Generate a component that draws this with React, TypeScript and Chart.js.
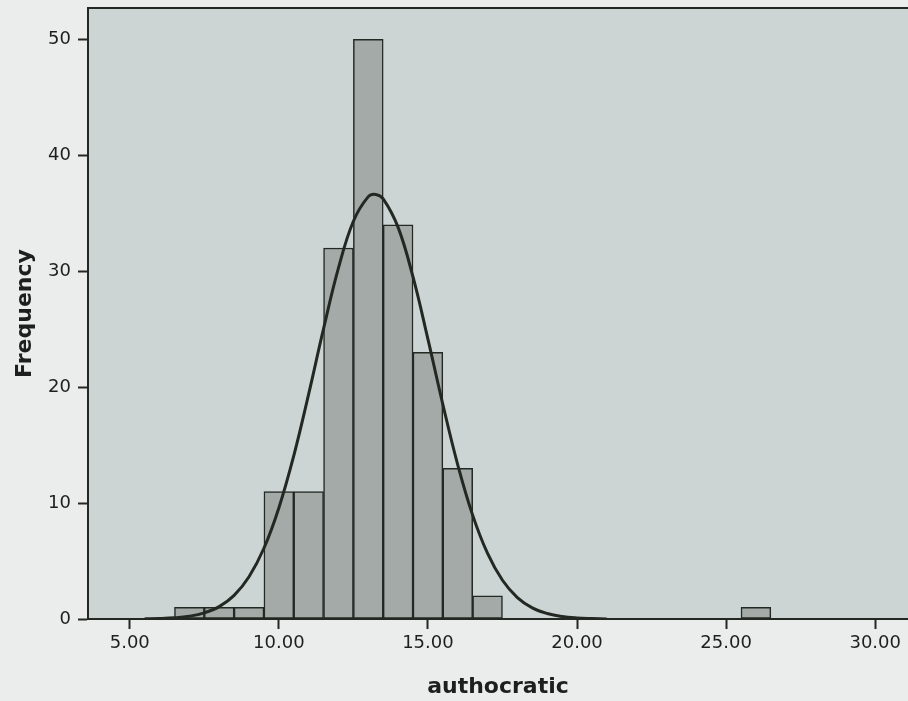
import React, { useEffect, useRef } from 'react';
import { Chart, registerables } from 'chart.js';

Chart.register(...registerables);

const binCenters = [7, 8, 9, 10, 11, 12, 13, 14, 15, 16, 17, 26];
const frequencies = [1, 1, 1, 11, 11, 32, 50, 34, 23, 13, 2, 1];

const curveX = [5.5, 6, 6.5, 7, 7.5, 8, 8.5, 9, 9.5, 10, 10.5, 11, 11.5, 12, 12.5, 13, 13.25, 13.5, 14, 14.5, 15, 15.5, 16, 16.5, 17, 17.5, 18, 18.5, 19, 19.5, 20, 20.5, 21];
const curveY = [0.02, 0.04, 0.1, 0.24, 0.53, 1.07, 2.04, 3.65, 6.1, 9.58, 14.08, 19.4, 25.04, 30.28, 34.31, 36.43, 36.62, 36.24, 33.78, 29.5, 24.14, 18.51, 13.3, 8.96, 5.65, 3.34, 1.85, 0.96, 0.47, 0.21, 0.09, 0.04, 0.01];

const xTicks = [5, 10, 15, 20, 25, 30];
const yTicks = [0, 10, 20, 30, 40, 50];

const xTitle = 'authocratic';
const yTitle = 'Frequency';

const PAGE_BG = '#eaedec';
const PLOT_BG = '#cdd4d4';
const BAR_FILL = '#a3aaa8';
const DARK = '#232823';

const bgPlugin = {
  id: 'bgPlugin',
  beforeDraw(chart: any) {
    const { ctx, chartArea, width, height } = chart;
    ctx.save();
    ctx.fillStyle = PAGE_BG;
    ctx.fillRect(0, 0, width, height);
    ctx.fillStyle = PLOT_BG;
    ctx.fillRect(chartArea.left, chartArea.top, chartArea.right - chartArea.left, chartArea.bottom - chartArea.top);
    ctx.restore();
  },
  afterDraw(chart: any) {
    const { ctx, chartArea } = chart;
    ctx.save();
    ctx.strokeStyle = DARK;
    ctx.lineWidth = 2;
    ctx.beginPath();
    ctx.moveTo(chartArea.left - 1, chartArea.top);
    ctx.lineTo(chartArea.right, chartArea.top);
    ctx.stroke();
    ctx.restore();
  },
};

export default function App() {
  const ref = useRef<HTMLCanvasElement>(null);

  useEffect(() => {
    document.body.style.margin = '0';
    document.body.style.background = PAGE_BG;
    const canvas = ref.current;
    if (!canvas) return;
    const chart = new Chart(canvas, {
      type: 'bar',
      data: {
        datasets: [
          {
            type: 'line',
            data: curveX.map((x, i) => ({ x, y: curveY[i] })),
            borderColor: DARK,
            borderWidth: 3,
            pointRadius: 0,
            tension: 0.4,
            fill: false,
            order: 0,
          } as any,
          {
            type: 'bar',
            data: binCenters.map((x, i) => ({ x, y: frequencies[i] })),
            backgroundColor: BAR_FILL,
            borderColor: DARK,
            borderWidth: 1.5,
            borderSkipped: false,
            barPercentage: 1,
            categoryPercentage: 1,
            order: 1,
          } as any,
        ],
      },
      options: {
        responsive: false,
        animation: false,
        layout: { autoPadding: false, padding: { top: 8, right: 0, left: 0, bottom: 0 } },
        plugins: {
          legend: { display: false },
          tooltip: { enabled: false },
        },
        scales: {
          x: {
            type: 'linear',
            min: 3.6,
            max: 31.1,
            offset: false,
            grid: {
              offset: false,
              drawOnChartArea: false,
              drawTicks: true,
              tickLength: 10,
              tickWidth: 2,
              tickColor: DARK,
            },
            border: { display: true, color: DARK, width: 2 },
            afterBuildTicks: (scale: any) => {
              scale.ticks = xTicks.map((v) => ({ value: v }));
            },
            afterFit: (scale: any) => {
              scale.height = 82;
              scale.paddingLeft = 0;
              scale.paddingRight = 0;
            },
            ticks: {
              color: '#1e1e1e',
              padding: 4,
              maxRotation: 0,
              font: { family: 'DejaVu Sans', size: 18 },
              callback: (v: any) => Number(v).toFixed(2),
            },
            title: {
              display: true,
              text: xTitle,
              color: '#1e1e1e',
              font: { family: 'DejaVu Sans', size: 22, weight: 'bold' },
              padding: { top: 0, bottom: 1 },
            },
          },
          y: {
            type: 'linear',
            min: 0,
            max: 52.7,
            grid: {
              drawOnChartArea: false,
              drawTicks: true,
              tickLength: 10,
              tickWidth: 2,
              tickColor: DARK,
            },
            border: { display: true, color: DARK, width: 2 },
            afterBuildTicks: (scale: any) => {
              scale.ticks = yTicks.map((v) => ({ value: v }));
            },
            afterFit: (scale: any) => {
              scale.width = 88;
              scale.paddingTop = 0;
              scale.paddingBottom = 0;
            },
            ticks: {
              color: '#1e1e1e',
              padding: 7,
              font: { family: 'DejaVu Sans', size: 18 },
              callback: (v: any) => String(v),
            },
            title: {
              display: true,
              text: yTitle,
              color: '#1e1e1e',
              font: { family: 'DejaVu Sans', size: 22, weight: 'bold' },
              padding: { top: 12, bottom: 0 },
            },
          },
        },
      },
      plugins: [bgPlugin],
    } as any);
    return () => chart.destroy();
  }, []);

  return (
    <div style={{ width: 908, height: 701 }}>
      <canvas ref={ref} width={908} height={701} style={{ display: 'block' }} />
    </div>
  );
}
